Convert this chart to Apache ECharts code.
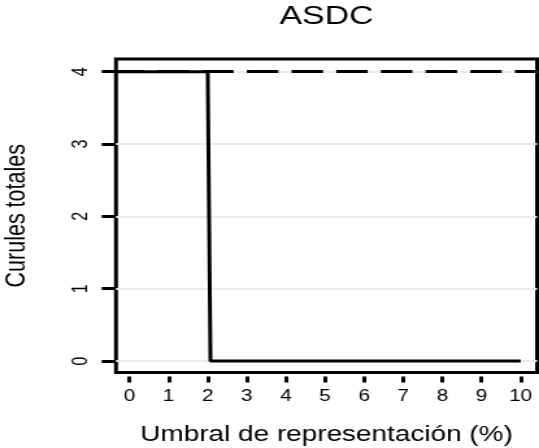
<!DOCTYPE html>
<html>
<head>
<meta charset="utf-8">
<script src="https://cdn.jsdelivr.net/npm/echarts@6/dist/echarts.min.js"></script>
<style>
html,body{margin:0;padding:0;background:#fff;overflow:hidden}
#c{width:415px;height:448px;transform:scaleX(1.2988);transform-origin:0 0}
</style>
</head>
<body>
<div id="c"></div>
<script>
// ---- data ----
const chartTitle = 'ASDC';
const xName = 'Umbral de representación (%)';
const yName = 'Curules totales';
const xTicks = [0, 1, 2, 3, 4, 5, 6, 7, 8, 9, 10];
const yTicks = [0, 1, 2, 3, 4];
const umbral = [-0.35, 2, 2.07, 10];
const curules = [4, 4, 0, 0];
const totalCurules = 4;

const FONT = 'Liberation Sans';
const chart = echarts.init(document.getElementById('c'), null, {renderer: 'canvas'});

chart.setOption({
  animation: false,
  backgroundColor: '#fff',
  textStyle: {fontFamily: FONT, color: '#000'},
  title: {
    text: chartTitle,
    left: 251.4,
    top: 4,
    padding: 0,
    textAlign: 'center',
    textStyle: {fontFamily: FONT, fontSize: 26, fontWeight: 'normal', color: '#000'}
  },
  grid: {
    left: 89.3, right: 1.5, top: 59, bottom: 75.5,
    outerBoundsMode: 'none',
    show: true, borderColor: '#000', borderWidth: 3, backgroundColor: 'transparent',
    containLabel: false
  },
  xAxis: {
    type: 'value',
    min: -0.345, max: 10.42,
    offset: 4,
    axisLine: {show: false, onZero: false},
    axisTick: {show: true, customValues: xTicks, length: 6, lineStyle: {color: '#000', width: 3}},
    axisLabel: {customValues: xTicks, margin: 12, fontSize: 16, color: '#000', fontFamily: FONT},
    splitLine: {show: false},
    name: xName,
    nameLocation: 'middle',
    nameGap: 48,
    nameTextStyle: {fontFamily: FONT, fontSize: 21.5, color: '#000'}
  },
  yAxis: {
    type: 'value',
    min: -0.159, max: 4.176,
    axisLine: {show: false, onZero: false},
    axisTick: {show: true, customValues: yTicks, length: 11, lineStyle: {color: '#000', width: 3}},
    axisLabel: {customValues: yTicks, rotate: 90, margin: 19, fontSize: 16, color: '#000', fontFamily: FONT},
    splitLine: {show: false},
    name: yName,
    nameLocation: 'middle',
    nameGap: 65,
    nameTextStyle: {fontFamily: FONT, fontSize: 21.5, color: '#000'}
  },
  series: [
    {
      name: 'grid',
      type: 'line',
      data: [],
      z: 1,
      silent: true,
      markLine: {
        z: 1,
        silent: true,
        symbol: ['none', 'none'],
        label: {show: false},
        lineStyle: {color: '#e3eded', width: 2, type: 'solid'},
        data: yTicks.map(v => ({yAxis: v}))
      }
    },
    {
      name: 'total',
      type: 'line',
      data: [],
      z: 2,
      silent: true,
      markLine: {
        z: 2,
        silent: true,
        symbol: ['none', 'none'],
        label: {show: false},
        lineStyle: {color: '#000', width: 3, type: [24.2, 10.2], dashOffset: 2.4},
        data: [{yAxis: totalCurules}]
      }
    },
    {
      name: 'curules',
      type: 'line',
      z: 6,
      showSymbol: false,
      symbol: 'none',
      lineStyle: {color: '#000', width: 3},
      data: umbral.map((x, i) => [x, curules[i]])
    }
  ]
});
</script>
</body>
</html>
